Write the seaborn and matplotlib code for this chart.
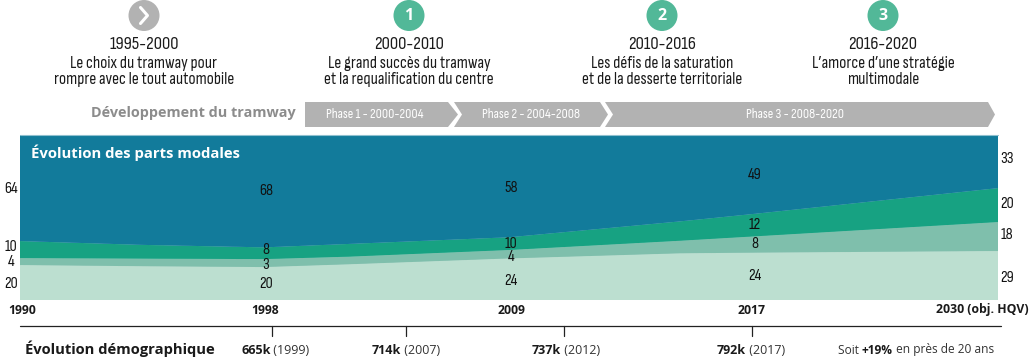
import matplotlib
matplotlib.use("Agg")
import matplotlib.pyplot as plt
from matplotlib.patches import Circle, Polygon
import pandas as pd
import seaborn as sns
import seaborn.objects as so

# positions along the axis (1 unit = one labelled year), shares
stops = [0, 0.5, 1, 1.35, 2, 2.7, 3, 4]
marche = [21.1, 20.4, 19.9, 21.6, 25.1, 28.2, 28.6, 29.6]
velo = [4.2, 4.6, 4.8, 4.6, 5.1, 7.6, 9.8, 17.5]
transports = [10.3, 8.3, 7.1, 7.7, 7.7, 11.7, 13.6, 20.5]
voiture = [64.4, 66.7, 68.2, 66.1, 62.1, 52.5, 48.0, 32.4]

years = ["1990", "1998", "2009", "2017", "2030 (obj. HQV)"]
labels_voiture = [64, 68, 58, 49, 33]
labels_transports = [10, 8, 10, 12, 20]
labels_velo = [4, 3, 4, 8, 18]
labels_marche = [20, 20, 24, 24, 29]

periods = ["1995-2000", "2000-2010", "2010-2016", "2016-2020"]
period_text = [
    "Le choix du tramway pour\nrompre avec le tout automobile",
    "Le grand succès du tramway\net la requalification du centre",
    "Les défis de la saturation\net de la desserte territoriale",
    "L’amorce d’une stratégie\nmultimodale",
]
period_marks = ["", "1", "2", "3"]
phases = ["Phase 1 - 2000-2004", "Phase 2 - 2004-2008", "Phase 3 - 2008-2020"]
demo_values = ["665k", "714k", "737k", "792k"]
demo_years = ["(1999)", "(2007)", "(2012)", "(2017)"]

GREY = "#b2b2b2"
MINT = "#52b898"
NARROW = ["Sofia Sans Condensed", "Roboto", "DejaVu Sans"]
BOLD = ["Open Sans", "DejaVu Sans"]

sns.set_theme(style="white")

df = pd.DataFrame({
    "pos": stops * 4,
    "part": marche + velo + transports + voiture,
    "mode": ["marche"] * 8 + ["velo"] * 8 + ["tc"] * 8 + ["voiture"] * 8,
})

fig = plt.figure(figsize=(10.35, 3.6), dpi=100, facecolor="white")

ax = fig.add_axes([20 / 1035, 60 / 360, 978 / 1035, 165.5 / 360])
(
    so.Plot(df, x="pos", y="part", color="mode")
    .add(so.Area(alpha=1, edgewidth=0.5, edgealpha=1), so.Stack())
    .scale(color=so.Nominal(
        {"marche": "#bcdfd0", "velo": "#7fbfac", "tc": "#17a282", "voiture": "#127b9b"},
        order=["marche", "velo", "tc", "voiture"],
    ))
    .limit(x=(0, 4), y=(0, 100))
    .label(x="", y="")
    .on(ax)
    .plot()
)
fig.legends.clear()
ax.axis("off")

# overlay in pixel coordinates for the infographic furniture, above the chart
bg = fig.add_axes([0, 0, 1, 1], zorder=3)
bg.set_xlim(0, 1035)
bg.set_ylim(360, 0)
bg.axis("off")

# header columns
head_x = [144, 409, 662, 883]
for x, per, txt, mark in zip(head_x, periods, period_text, period_marks):
    color = MINT if mark else GREY
    bg.add_patch(Circle((x, 15.5), 15.5, fc=color, ec="none"))
    if mark:
        bg.text(x, 16, mark, color="white", fontsize=11.5, fontweight="bold",
                family=BOLD, ha="center", va="center")
    else:
        bg.plot([x - 3.5, x + 3.5, x - 3.5], [7.5, 15.5, 23.5], color="white", lw=2.2)
    bg.text(x, 44.5, per, fontsize=13.4, color="#1a1a1a", family=NARROW, ha="center", va="center")
    bg.text(x, 71.5, txt, fontsize=12.4, color="#1a1a1a", family=NARROW, ha="center",
            va="center", linespacing=1.05)

bg.text(296, 113.5, "Développement du tramway", fontsize=10.4, fontweight="bold",
        color="#8c8c8c", family=BOLD, ha="right", va="center")

# phase chevrons
bars = [(305, 448, 458, None), (454, 600, 608, 462), (605, 988, 995, 613)]
for (x0, x1, tip, notch), name in zip(bars, phases):
    pts = [(x0, 102), (x1, 102), (tip, 114.5), (x1, 127), (x0, 127)]
    if notch:
        pts.append((notch, 114.5))
    bg.add_patch(Polygon(pts, closed=True, fc=GREY, ec="none"))
    cx = (x0 + x1) / 2 + (4 if notch else -2)
    bg.text(cx if name != phases[2] else cx - 6, 114.5, name, color="white", fontsize=10,
            family=NARROW, ha="center", va="center")

bg.plot([20, 998], [134.5, 134.5], color="#8fc0cf", lw=0.8)

bg.text(31, 153, "Évolution des parts modales", color="white", fontsize=10.7,
        fontweight="bold", family=BOLD, va="center")

# value labels over the bands
label_x = [11, 266, 511, 755, 1007]
rows = [
    (labels_voiture, [189, 191, 188, 175, 159]),
    (labels_transports, [247, 250, 244, 225, 204]),
    (labels_velo, [262, 265, 257, 244, 235]),
    (labels_marche, [284, 284, 281, 276, 278]),
]
for vals, ys in rows:
    for x, y, v in zip(label_x, ys, vals):
        bg.text(x, y, str(v), fontsize=11.6, color="#111111", family=NARROW, ha="center", va="center")

year_x = [22, 265, 511, 752, 982]
for x, y in zip(year_x, years):
    bg.text(x, 310, y, fontsize=8.8, fontweight="bold", color="#1a1a1a", family=BOLD,
            ha="center", va="center")

# demography strip
bg.plot([20, 1001], [326, 326], color="#222222", lw=0.9)
for x in [272, 406, 564, 752]:
    bg.plot([x, x], [326, 336], color="#222222", lw=0.9)

bg.text(25, 349, "Évolution démographique", fontsize=10.6, fontweight="bold",
        color="#1a1a1a", family=BOLD, va="center")
demo_x = [241, 372, 532, 717]
for x, v, y in zip(demo_x, demo_values, demo_years):
    t = bg.text(x, 350, v, fontsize=9, fontweight="bold", color="#1a1a1a", family=BOLD, va="center")
    bg.annotate(" " + y, xy=(1, 0.5), xycoords=t, fontsize=9, color="#333333", family=BOLD, va="center")

t = bg.text(838, 350, "Soit ", fontsize=8.6, color="#333333", family=BOLD, va="center")
t = bg.annotate("+19%", xy=(1, 0.5), xycoords=t, fontsize=8.6, fontweight="bold",
                color="#1a1a1a", family=BOLD, va="center")
bg.annotate(" en près de 20 ans", xy=(1, 0.5), xycoords=t, fontsize=8.6, color="#333333",
            family=BOLD, va="center")

fig.savefig("out.png", dpi=100)
